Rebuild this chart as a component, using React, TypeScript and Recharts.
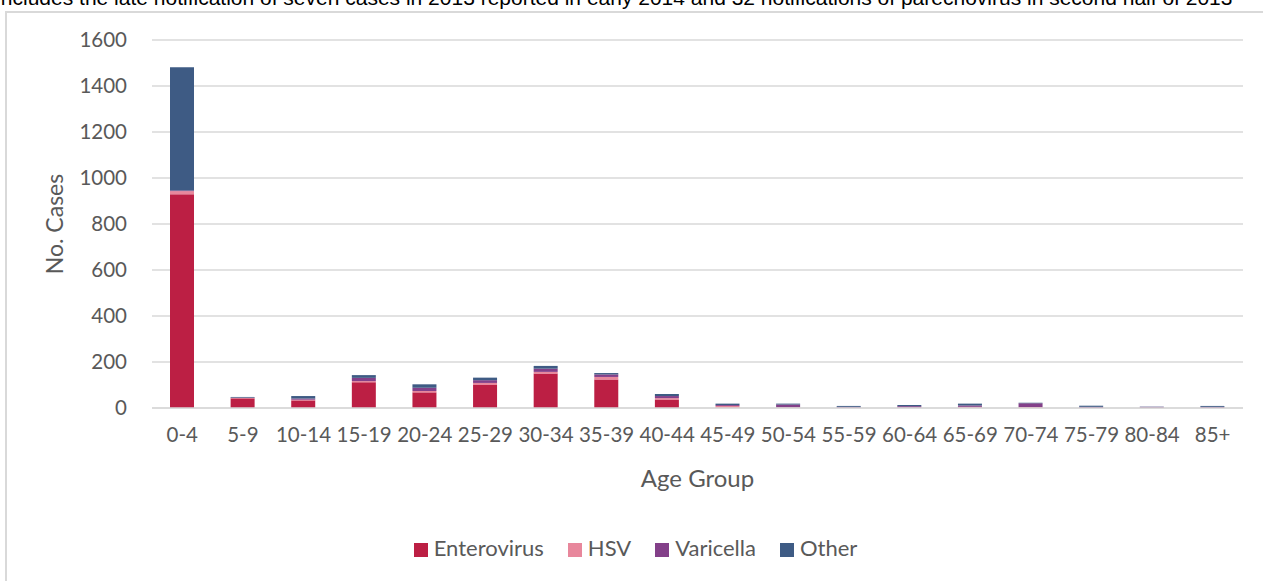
import React from 'react'
import {
	BarChart,
	Bar,
	XAxis,
	YAxis,
	CartesianGrid,
	Legend,
} from 'recharts'

// age groups and notification counts per cause
const ageGroups = [
	'0-4', '5-9', '10-14', '15-19', '20-24', '25-29', '30-34', '35-39', '40-44',
	'45-49', '50-54', '55-59', '60-64', '65-69', '70-74', '75-79', '80-84', '85+',
]
const enterovirus = [929, 42, 33, 112, 68, 100, 150, 124, 37, 2, 1, 0, 0, 2, 2, 0, 0, 0]
const hsv = [14, 2, 3, 5, 6, 9, 7, 11, 6, 7, 2, 1, 2, 3, 2, 0, 1, 0]
const varicella = [3, 1, 5, 14, 14, 12, 14, 11, 9, 4, 12, 4, 6, 6, 17, 5, 4, 5]
const other = [535, 3, 11, 12, 15, 11, 12, 6, 9, 6, 4, 4, 5, 8, 2, 5, 1, 4]
const yTicks = [0, 200, 400, 600, 800, 1000, 1200, 1400, 1600]
const seriesOrder = ['Enterovirus', 'HSV', 'Varicella', 'Other']

const data = ageGroups.map((age, i) => ({
	age,
	Enterovirus: enterovirus[i],
	HSV: hsv[i],
	Varicella: varicella[i],
	Other: other[i],
}))

const font = 'Lato, "Open Sans", sans-serif'
const textGrey = '#595959'

export default function App() {
	return (
		<div
			style={{
				position: 'absolute',
				left: 0,
				top: 0,
				width: 1263,
				height: 581,
				overflow: 'hidden',
				background: '#fff',
			}}
		>
			<div
				style={{
					position: 'absolute',
					left: -5,
					top: -14,
					fontFamily: '"Liberation Sans", Arial, sans-serif',
					fontSize: 21,
					whiteSpace: 'nowrap',
					color: '#000',
				}}
			>
				Includes the late notification of seven cases in 2013 reported in early 2014 and 32 notifications of parechovirus in second half of 2013
			</div>
			<div
				style={{
					position: 'absolute',
					left: 5,
					top: 11,
					width: 1400,
					height: 800,
					border: '2px solid #d9d9d9',
				}}
			/>
			<div style={{ position: 'absolute', left: 0, top: 0 }}>
				<BarChart
					width={1263}
					height={581}
					data={data}
					margin={{ top: 40, right: 20, left: 52, bottom: 84 }}
					style={{ fontFamily: font }}
				>
					<CartesianGrid vertical={false} stroke='#d9d9d9' strokeWidth={1.5} />
					<XAxis
						dataKey='age'
						height={62}
						tickLine={false}
						tickSize={0}
						tickMargin={19}
						axisLine={{ stroke: '#d9d9d9', strokeWidth: 1.5 }}
						tick={{ fill: textGrey, fontSize: 20.5 }}
						interval={0}
						label={{
							value: 'Age Group',
							position: 'bottom',
							offset: 0,
							fill: textGrey,
							fontSize: 24,
						}}
					/>
					<YAxis
						width={100}
						domain={[0, 1600]}
						ticks={yTicks}
						tickLine={false}
						tickSize={0}
						tickMargin={25}
						axisLine={false}
						tick={{ fill: textGrey, fontSize: 20.5 }}
						label={{
							value: 'No. Cases',
							angle: -90,
							position: 'insideLeft',
							offset: 3,
							fill: textGrey,
							fontSize: 23,
							style: { textAnchor: 'middle' },
						}}
					/>
					<Legend
						verticalAlign='bottom'
						iconType='square'
						iconSize={14}
						itemSorter={(item) => seriesOrder.indexOf(String(item.value))}
						wrapperStyle={{ bottom: 20, fontSize: 22 }}
						formatter={(value) => (
							<span style={{ color: textGrey, marginLeft: 2, marginRight: 14 }}>{value}</span>
						)}
					/>
					<Bar dataKey='Enterovirus' stackId='a' fill='#bc1f44' barSize={24} isAnimationActive={false} />
					<Bar dataKey='HSV' stackId='a' fill='#e8879c' barSize={24} isAnimationActive={false} />
					<Bar dataKey='Varicella' stackId='a' fill='#834089' barSize={24} isAnimationActive={false} />
					<Bar dataKey='Other' stackId='a' fill='#3e5b84' barSize={24} isAnimationActive={false} />
				</BarChart>
			</div>
		</div>
	)
}
